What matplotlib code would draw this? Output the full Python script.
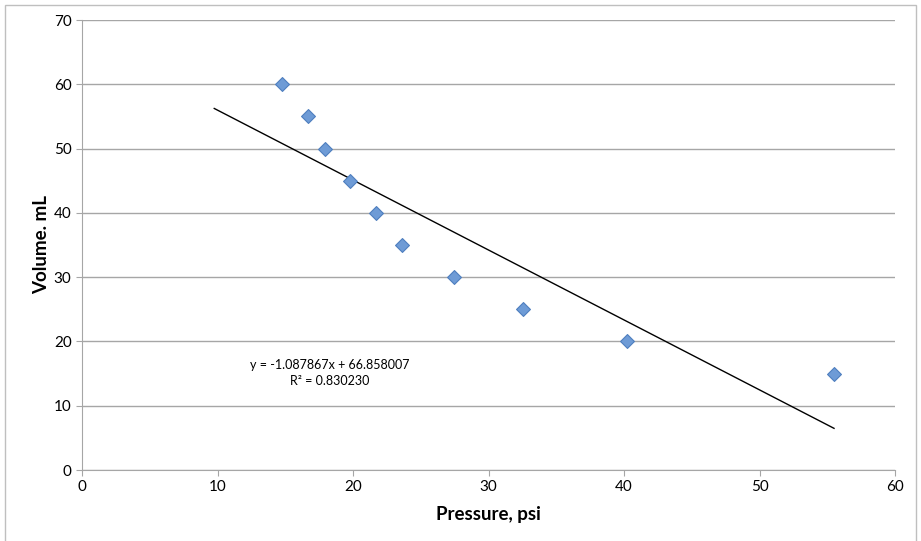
import matplotlib.pyplot as plt
import numpy as np
from matplotlib.patches import Rectangle

# Data
pressure = [14.76, 16.65, 17.9, 19.8, 21.7, 23.6, 27.45, 32.55, 40.2, 55.5]
volume = [60, 55, 50, 45, 40, 35, 30, 25, 20, 15]
fit_slope = -1.087867
fit_intercept = 66.858007
r_squared = 0.830230
x_ticks = [0, 10, 20, 30, 40, 50, 60]
y_ticks = [0, 10, 20, 30, 40, 50, 60, 70]

plt.rcParams['font.family'] = ['Lato', 'DejaVu Sans']

fig = plt.figure(figsize=(9.21, 5.41), dpi=100)
ax = fig.add_axes([82 / 921, 1 - 470 / 541, (895 - 82) / 921, (470 - 20) / 541])

# outer chart border
fig.patches.append(Rectangle((5 / 921, -0.01), 911 / 921, 1 - 5 / 541 + 0.01,
                             transform=fig.transFigure, fill=False,
                             edgecolor='#bfbfbf', linewidth=1))

ax.set_xlim(0, 60)
ax.set_ylim(0, 70)
ax.set_xticks(x_ticks)
ax.set_yticks(y_ticks)
ax.grid(axis='y', color='#a6a6a6', linewidth=1)
ax.set_axisbelow(True)
for s in ['top', 'right']:
    ax.spines[s].set_visible(False)
for s in ['left', 'bottom']:
    ax.spines[s].set_color('#a6a6a6')
ax.tick_params(axis='both', colors='#a6a6a6', labelcolor='black', labelsize=11, length=4)

# trendline (backward forecast 5 units)
xs = np.array([min(pressure) - 5, max(pressure)])
ax.plot(xs, fit_slope * xs + fit_intercept, color='black', linewidth=1)

ax.scatter(pressure, volume, marker='D', s=50, color='#6e9bd6',
           edgecolor='#4f7fbf', linewidth=0.8, zorder=3)

ax.text(18.3, 16.3, f"y = {fit_slope:.6f}x + {fit_intercept:.6f}",
        ha='center', va='center', fontsize=9)
ax.text(18.3, 13.8, f"R² = {r_squared:.6f}", ha='center', va='center', fontsize=9)

ax.set_xlabel("Pressure, psi", fontsize=13.5, fontweight='bold', labelpad=8)
ax.set_ylabel("Volume. mL", fontsize=13.5, fontweight='bold', labelpad=3)

fig.savefig("out.png", dpi=100)
